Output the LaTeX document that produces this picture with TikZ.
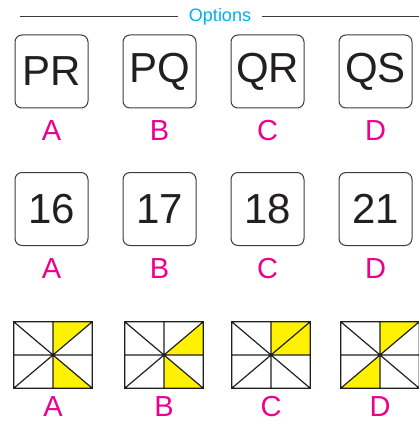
\documentclass[tikz,border=0pt]{standalone}
\usepackage{fontspec}
\setmainfont{Liberation Sans}
\usetikzlibrary{positioning}
\definecolor{ink}{HTML}{231F20}
\definecolor{mag}{HTML}{EC008C}
\definecolor{cyn}{HTML}{00AEEF}
\definecolor{ylw}{HTML}{FFF200}
\definecolor{rul}{HTML}{3C3C3C}
\tikzset{
  card/.style ={draw=rul, line width=1pt, rounded corners=7pt, minimum size=73pt,
                inner sep=0pt, text=ink, font=\fontsize{42}{42}\selectfont},
  opt/.style  ={text=mag, font=\fontsize{29}{29}\selectfont, inner sep=0pt},
  fig/.style  ={minimum width=78pt, minimum height=66pt, inner sep=0pt},
  gridln/.style={draw=ink, line width=1.2pt},
  shade/.style={fill=ylw},
}
\begin{document}
\begin{tikzpicture}[x=1pt,y=-1pt,node distance=12pt and 34pt]
  \useasboundingbox (0,0) rectangle (419,422);
  % --- header rule ---
  \node[text=cyn, font=\fontsize{18}{18}\selectfont, inner xsep=11pt] (head) at (220,17) {Options};
  \coordinate (hl) at (20,17);
  \coordinate (hr) at (419,17);
  \draw[rul, line width=1pt] (hl) -- (head.west) (head.east) -- (hr);
  % --- letter pairs ---
  \node[card] (pr) at (51.5,71.5) {PR};
  \node[card, right=of pr] (pq) {PQ};
  \node[card, right=of pq] (qr) {QR};
  \node[card, right=of qr] (qs) {QS};
  % --- numbers ---
  \node[card] (n16) at (51.5,209) {16};
  \node[card, right=of n16] (n17) {17};
  \node[card, right=of n17] (n18) {18};
  \node[card, right=of n18] (n21) {21};
  % --- option letters under the cards ---
  \foreach \c/\l in {pr/A,pq/B,qr/C,qs/D,n16/A,n17/B,n18/C,n21/D}
     \node[opt, below=of \c] (l\c) {\l};
  % --- shaded rectangles ---
  \begin{scope}[shift={(53,355)}]
    \fill[shade] (0,0) -- (0,-33) -- (39,-33) -- cycle (0,0) -- (0,33) -- (39,33) -- cycle;
  \end{scope}
  \begin{scope}[shift={(164,355)}]
    \fill[shade] (0,0) -- (39,0) -- (39,-33) -- cycle (0,0) -- (0,33) -- (39,33) -- cycle;
  \end{scope}
  \begin{scope}[shift={(271,355)}]
    \fill[shade] (0,0) -- (0,-33) -- (39,-33) -- (39,0) -- cycle;
  \end{scope}
  \begin{scope}[shift={(380,355)}]
    \fill[shade] (0,0) -- (0,-33) -- (39,-33) -- cycle (0,0) -- (0,33) -- (-39,33) -- cycle;
  \end{scope}
  \foreach \x/\l in {53/A,164/B,271/C,380/D}{
    \node[fig] (f\l) at (\x,355) {};
    \draw[gridln] (f\l.north west) rectangle (f\l.south east)
      (f\l.north west) -- (f\l.south east) (f\l.south west) -- (f\l.north east)
      (f\l.north) -- (f\l.south) (f\l.west) -- (f\l.east);
    \node[opt, below=8pt of f\l] (lf\l) {\l};
  }
\end{tikzpicture}
\end{document}
